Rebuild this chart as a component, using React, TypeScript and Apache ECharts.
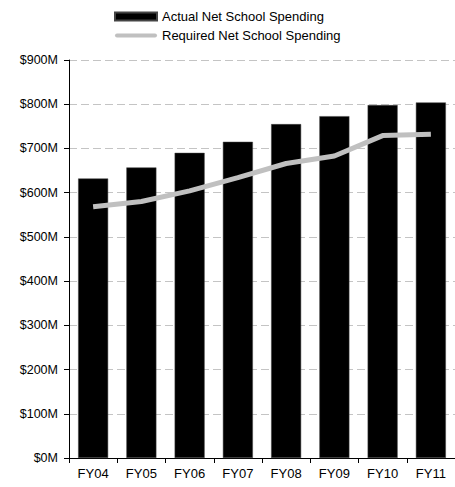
import React, { useEffect, useRef } from "react";
import * as echarts from "echarts";

const categories = ["FY04", "FY05", "FY06", "FY07", "FY08", "FY09", "FY10", "FY11"];
const actualSpending = [632, 657, 690, 715, 755, 773, 798, 804];
const requiredSpending = [568, 580, 604, 634, 666, 683, 729, 732];
const yTicks = [0, 100, 200, 300, 400, 500, 600, 700, 800, 900];

const FONT = "'Liberation Sans', Arial, sans-serif";

export default function App() {
  const ref = useRef<HTMLDivElement>(null);
  useEffect(() => {
    if (!ref.current) return;
    const chart = echarts.init(ref.current, null, { renderer: "svg" });
    chart.setOption({
      animation: false,
      backgroundColor: "#ffffff",
      textStyle: { fontFamily: FONT },
      legend: {
        orient: "vertical",
        left: 114,
        top: 10,
        padding: 0,
        itemGap: 6,
        itemWidth: 42,
        itemHeight: 8,
        textStyle: { fontFamily: FONT, fontSize: 13, color: "#000" },
        data: [
          { name: "Actual Net School Spending", icon: "rect" },
          { name: "Required Net School Spending", icon: "path://M0,0M2,2H40A2,2 0 0 1 40,6H2A2,2 0 0 1 2,2Z M42,8" },
        ],
      },
      grid: { left: 69, right: 0, top: 60, bottom: 29, containLabel: false },
      xAxis: {
        type: "category",
        data: categories,
        axisLine: { lineStyle: { color: "#000", width: 1 } },
        axisTick: { show: true, length: 5, lineStyle: { color: "#000" } },
        axisLabel: { color: "#000", fontSize: 13, fontFamily: FONT, margin: 9 },
      },
      yAxis: {
        type: "value",
        min: yTicks[0],
        max: yTicks[yTicks.length - 1],
        interval: 100,
        axisLine: { show: true, lineStyle: { color: "#000", width: 1 } },
        axisTick: { show: true, length: 5, lineStyle: { color: "#000" } },
        axisLabel: {
          color: "#000",
          fontSize: 12.5,
          fontFamily: FONT,
          margin: 11,
          formatter: (v: number) => "$" + v + "M",
        },
        splitLine: {
          show: true,
          lineStyle: { color: "#c4c4c4", type: [8, 4], width: 1 },
        },
      },
      series: [
        {
          name: "Actual Net School Spending",
          type: "bar",
          data: actualSpending,
          barWidth: 30,
          itemStyle: { color: "#000", borderColor: "#444", borderWidth: 0.5 },
        },
        {
          name: "Required Net School Spending",
          type: "line",
          data: requiredSpending,
          symbol: "none",
          smooth: false,
          itemStyle: { color: "#c0c0c0" },
          lineStyle: { color: "#c0c0c0", width: 5 },
        },
      ],
    });
    return () => chart.dispose();
  }, []);
  return (
    <div
      ref={ref}
      style={{ position: "fixed", left: 0, top: 0, width: 455, height: 487, background: "#fff" }}
    />
  );
}
